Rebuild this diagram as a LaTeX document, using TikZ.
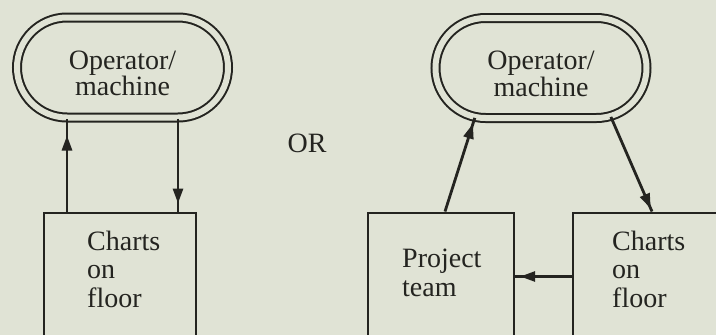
\documentclass[tikz,border=0pt]{standalone}
\usepackage{fontspec}
\setmainfont{Liberation Serif}
\usetikzlibrary{shapes.misc,decorations.markings,arrows.meta,calc}
\definecolor{paper}{RGB}{224,227,213}
\definecolor{ink}{RGB}{36,36,32}
\begin{document}
\begin{tikzpicture}[x=1pt,y=-1pt,
  every node/.style={text=ink},
  label font/.style={font=\fontsize{28}{#1}\selectfont},
  stadium/.style={draw=ink, fill=paper, rounded rectangle, double=paper,
    double distance=6pt, line width=2pt, minimum width=211pt,
    minimum height=100pt, inner sep=0pt, align=center, label font=25pt},
  chartbox/.style={draw=ink, fill=paper, line width=2.2pt, anchor=north west,
    minimum width=#1, minimum height=170pt, inner sep=0pt},
  boxtext/.style={anchor=base west, align=left, inner sep=0pt, label font=28.5pt},
  flow/.style={draw=ink, line width=2.8pt, postaction={decorate},
    decoration={markings, mark=at position #1 with
      {\arrow{Triangle[length=15pt,width=10pt]}}}}
]
  % page and clipping frame
  \path[use as bounding box, fill=paper] (0,0) rectangle (716,335);
  \clip (0,0) rectangle (716,335);

  % ---- first arrangement ----
  \node[stadium] (lop) at (122.5,67.5) {\rule{0pt}{30pt}Operator/\\machine};
  \node[chartbox=152pt] (lch) at (43,211.5) {};
  % base anchor sits on the last line
  \node[boxtext] (lchtxt) at ($(lch.north west)+(44,95.5)$) {Charts\\on\\floor};

  \coordinate (lup) at ($(lch.north west)+(24,0)$);
  \coordinate (ldn) at ($(lch.north west)+(135,0)$);
  \path[flow=-17pt] (lup) -- (lup |- lop.south);
  \path[flow=-8pt] (ldn |- lop.south) -- (ldn);

  \node[label font=28pt, anchor=base] (or) at (307,152) {OR};

  % ---- second arrangement ----
  \node[stadium] (rop) at (541,68) {\rule{0pt}{30pt}Operator/\\machine};
  \node[chartbox=146pt] (team) at (367,211.5) {};
  \node[boxtext] (teamtxt) at ($(team.north west)+(35,84.5)$) {Project\\team};
  \node[chartbox=200pt] (rch) at (572,211.5) {};
  \node[boxtext] (rchtxt) at ($(rch.north west)+(40,95.5)$) {Charts\\on\\floor};

  \coordinate (tup) at ($(team.north west)+(78,0)$);
  \coordinate (cdn) at ($(rch.north west)+(80,0)$);
  \coordinate (hz) at ($(rch.north west)+(0,65)$);
  \path[flow=-6pt] (tup) -- (rop.217);
  \path[flow=-3pt] (rop.-35) -- (cdn);
  \path[flow=-5pt] (hz) -- (hz -| team.east);
\end{tikzpicture}
\end{document}
